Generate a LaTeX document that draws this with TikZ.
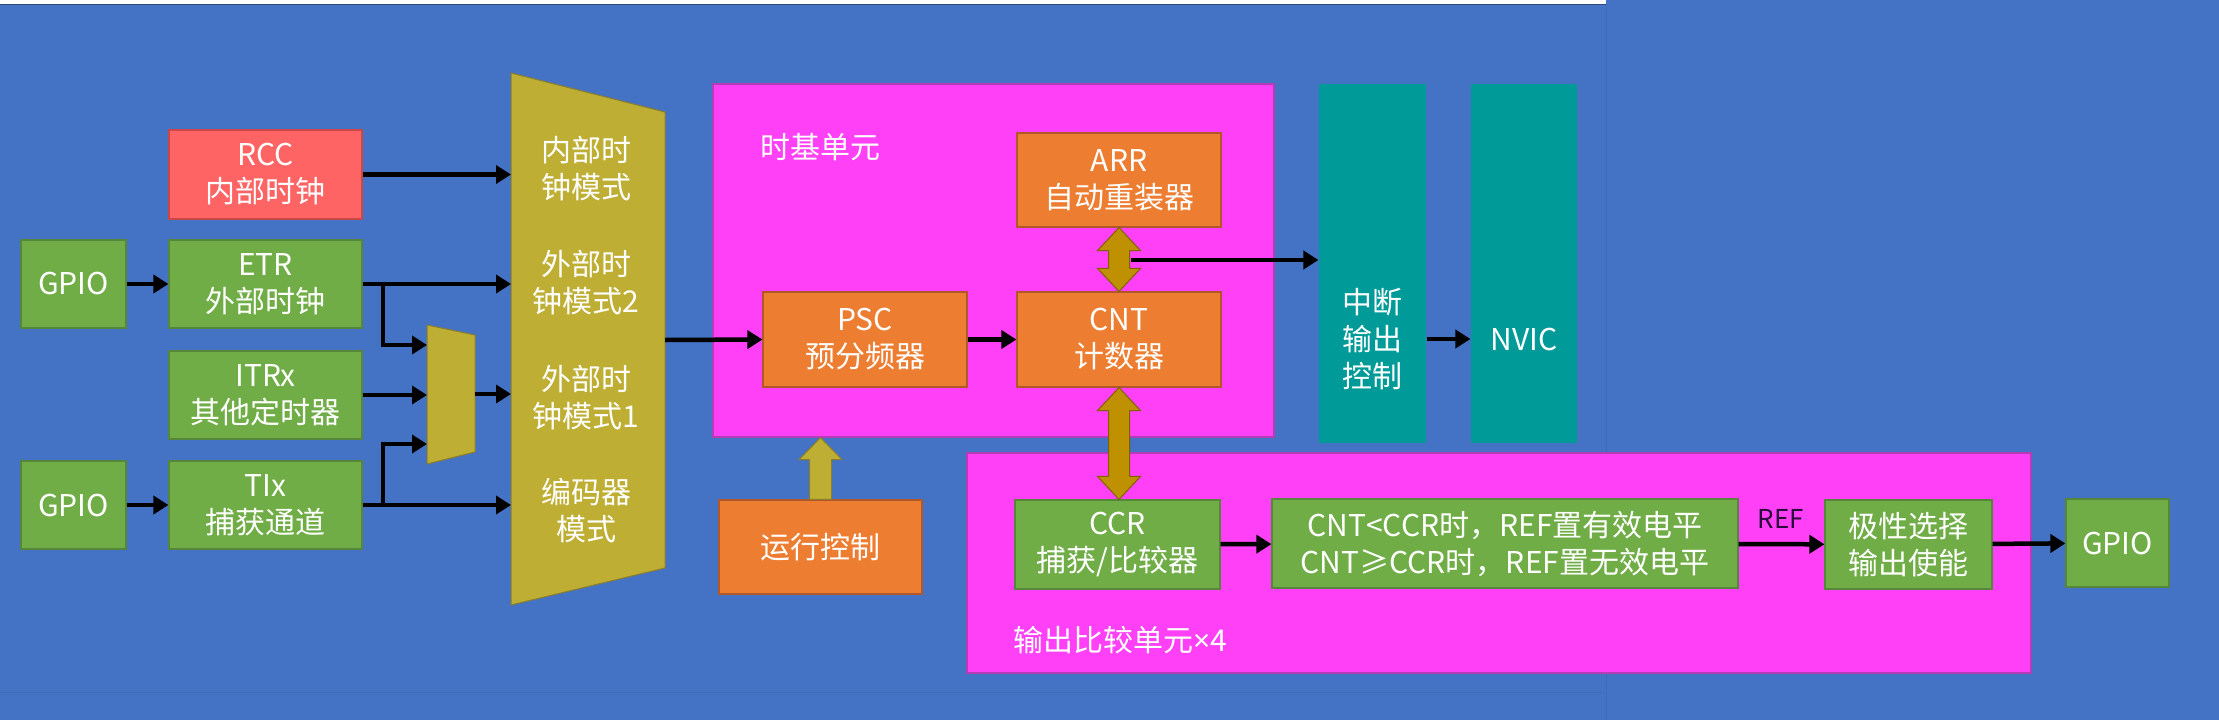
\documentclass[tikz,border=0pt]{standalone}
\usepackage{fontspec}
\setmainfont{Noto Sans CJK SC}
\newfontfamily\latinf{Noto Sans}
\usetikzlibrary{arrows.meta,calc}
\definecolor{bg}{HTML}{4472C4}
\definecolor{grn}{HTML}{70AD47}
\definecolor{grnD}{HTML}{55863A}
\definecolor{org}{HTML}{ED7D31}
\definecolor{orgD}{HTML}{B0582A}
\definecolor{rccc}{HTML}{FF6464}
\definecolor{rccD}{HTML}{C84848}
\definecolor{olive}{HTML}{BFAE34}
\definecolor{oliveD}{HTML}{8A7E2A}
\definecolor{gold}{HTML}{BF9000}
\definecolor{goldD}{HTML}{7F6200}
\definecolor{tealc}{HTML}{009B98}
\definecolor{pnk}{HTML}{FF40F6}
\definecolor{pnkD}{HTML}{B43CB4}
\definecolor{refc}{HTML}{2A0A3A}
\newcommand\mainsize{\fontsize{30}{37}\selectfont}
\newcommand\fatdbl[2]{%
  \path[fatd] let \p1=(#1), \p2=(#2) in
    (\x1,\y1) -- ({\x1-21.5pt},{\y1-23pt}) -- ({\x1-10.5pt},{\y1-23pt})
    -- ({\x1-10.5pt},{\y2+23pt}) -- ({\x1-21.5pt},{\y2+23pt}) -- (\x1,\y2)
    -- ({\x1+21.5pt},{\y2+23pt}) -- ({\x1+10.5pt},{\y2+23pt})
    -- ({\x1+10.5pt},{\y1-23pt}) -- ({\x1+21.5pt},{\y1-23pt}) -- cycle;}
\newcommand\fatup[2]{%
  \path[fatu] let \p1=(#1), \p2=(#2) in
    (\x1,\y1) -- ({\x1-21.5pt},{\y1-22pt}) -- ({\x1-11pt},{\y1-22pt})
    -- ({\x1-11pt},\y2) -- ({\x1+11pt},\y2) -- ({\x1+11pt},{\y1-22pt})
    -- ({\x1+21.5pt},{\y1-22pt}) -- cycle;}
\tikzset{
  base/.style={inner sep=0pt, align=center, text=white, font=\mainsize, line width=1.2pt},
  sz/.style 2 args={minimum width=#1, minimum height=#2},
  gbox/.style={base, fill=grn, draw=grnD},
  obox/.style={base, fill=org, draw=orgD},
  rbox/.style={base, fill=rccc, draw=rccD},
  tbox/.style={base, fill=tealc},
  pbox/.style={inner sep=0pt, fill=pnk, draw=pnkD, line width=1.2pt},
  lbl/.style={inner sep=0pt, align=center, text=white, font=\mainsize},
  arr/.style={draw=black, line width=4.5pt, -{Triangle[length=15pt,width=18pt]}},
  trap/.style={fill=olive, draw=oliveD, line width=1pt},
  fatd/.style={fill=gold, draw=goldD, line width=1pt},
  fatu/.style={fill=olive, draw=oliveD, line width=1pt},
}
\begin{document}
\begin{tikzpicture}[x=1pt,y=-1pt]
\useasboundingbox (0,0) rectangle (2219,720);
\fill[bg] (0,0) rectangle (2219,720);
\fill[white] (0,0) rectangle (1606,3.5);
\draw[black!35!bg, line width=1pt] (0,4) -- (1606,4);
\draw[black!6!bg, line width=1pt] (1606,4) -- (1606,720);
\draw[black!5!bg, line width=1pt] (0,692) -- (1606,692);

% left column
\node[rbox, sz={193pt}{89pt}] (rcc) at (265.5,174.5) {RCC\\内部时钟};
\node[gbox, sz={105pt}{88pt}] (gpio1) at (73.5,284) {GPIO};
\node[gbox, sz={193pt}{88pt}] (etr) at (265.5,284) {ETR\\外部时钟};
\node[gbox, sz={193pt}{88pt}] (itrx) at (265.5,395) {ITRx\\其他定时器};
\node[gbox, sz={105pt}{88pt}] (gpio2) at (73.5,505) {GPIO};
\node[gbox, sz={193pt}{88pt}] (tix) at (265.5,505) {TIx\\捕获通道};

% trapezoids
\draw[trap] (427,325) -- (475,335) -- (475,452) -- (427,464) -- cycle;
\draw[trap] (511,73) -- (665,112) -- (665,568) -- (511,605) -- cycle;
\node[lbl] (m1) at (586,169) {内部时\\钟模式};
\node[lbl] (m2) at (586,282.5) {外部时\\钟模式2};
\node[lbl] (m3) at (586,397.5) {外部时\\钟模式1};
\node[lbl] (m4) at (586,510.5) {编码器\\模式};
\coordinate (bigL) at (511,0);
\coordinate (muxL) at (427,0);
\coordinate (br) at (383,0);
\coordinate (mux1) at (427,345);
\coordinate (mux3) at (427,444);
\coordinate (muxout) at (475,394);
\coordinate (bigR) at (665,340);

% time base unit
\node[pbox, sz={561pt}{353pt}] (tb) at (993.5,260.5) {};
\node[lbl, anchor=west] (tbl) at (760,147) {时基单元};
\node[obox, sz={204pt}{94pt}] (arr) at (1119,180) {ARR\\自动重装器};
\node[obox, sz={204pt}{95pt}] (psc) at (865,339.5) {PSC\\预分频器};
\node[obox, sz={204pt}{95pt}] (cnt) at (1119,339.5) {CNT\\计数器};

% interrupt / NVIC
\node[tbox, sz={107pt}{359pt}] (intc) at (1372.5,263.5) {};
\node[lbl] (intct) at (1372.5,339) {中断\\输出\\控制};
\node[tbox, sz={106pt}{359pt}] (nvic) at (1524,263.5) {};
\node[lbl] (nvict) at (1524,340) {NVIC};

% run control
\node[obox, sz={203pt}{94pt}] (rc) at (820.5,547) {运行控制};

% output compare unit
\node[pbox, sz={1064pt}{220pt}] (oc) at (1499,563) {};
\node[lbl, anchor=west] (ocl) at (1013,640) {输出比较单元{\latinf ×}4};
\node[gbox, sz={205pt}{89pt}] (ccr) at (1117.5,544.5) {CCR\\捕获/比较器};
\node[gbox, sz={466pt}{89pt}] (cond) at (1505,543.5) {CNT<CCR时，REF置有效电平\\CNT≥CCR时，REF置无效电平};
\node[gbox, sz={167pt}{89pt}] (pol) at (1908.5,544.5) {极性选择\\输出使能};
\node[gbox, sz={103pt}{88pt}] (gpio3) at (2117.5,543) {GPIO};
\node[inner sep=0pt, text=refc, font=\fontsize{26}{30}\selectfont] (reflbl) at (1781,519) {REF};

% connectors
\draw[arr] (gpio1) -- (etr);
\draw[arr] (gpio2) -- (tix);
\draw[arr] (rcc.east) -- (rcc.east -| bigL);
\draw[arr] (etr.east) -- (etr.east -| bigL);
\draw[arr] (etr.east -| br) |- (mux1);
\draw[arr] (itrx.east) -- (itrx.east -| muxL);
\draw[arr] (tix.east -| br) |- (mux3);
\draw[arr] (muxout) -- (muxout -| bigL);
\draw[arr] (tix.east) -- (tix.east -| bigL);
\draw[arr] (bigR) -- (psc.west);
\draw[arr] (psc) -- (cnt);
\fatdbl{arr.south}{cnt.north}
\coordinate (intsrc) at (1131,260);
\draw[arr] (intsrc) -- (intsrc -| intc.west);
\draw[arr] (intct -| intc.east) -- (intct -| nvic.west);
\fatup{rc.north |- tb.south}{rc.north}
\fatdbl{cnt.south}{cnt.south |- ccr.north}
\draw[arr] (ccr) -- (cond);
\draw[arr] (cond) -- (pol);
\draw[arr] (pol) -- (gpio3);
\end{tikzpicture}
\end{document}
